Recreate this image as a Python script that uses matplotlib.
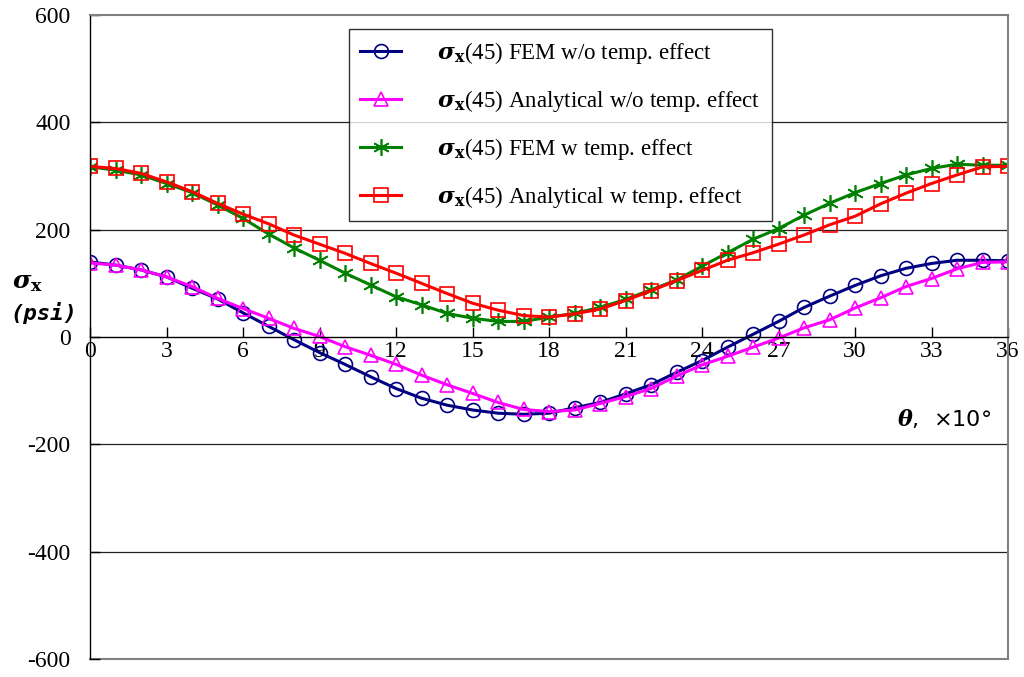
import matplotlib
matplotlib.use("Agg")
import matplotlib.pyplot as plt

plt.rcParams["font.family"] = ["Liberation Serif", "DejaVu Serif"]
plt.rcParams["mathtext.fontset"] = "dejavuserif"
plt.rcParams["axes.unicode_minus"] = False

theta = list(range(0, 37))

fem_wo = [140, 134, 125, 112, 91, 71, 45, 20, -5, -29, -51, -74, -96, -114, -127, -136,
          -142, -144, -142, -132, -122, -106, -89, -66, -44, -19, 5, 29, 55, 76, 96, 114,
          128, 137, 143, 143, 142]
ana_wo = [138, 134, 125, 112, 94, 72, 53, 35, 16, 1, -18, -34, -51, -71, -89, -105,
          -122, -135, -139, -136, -124, -111, -96, -73, -52, -36, -19, -2, 17, 32, 54, 73,
          94, 109, 127, 139, 140]
fem_w = [317, 311, 302, 286, 269, 246, 221, 192, 166, 143, 119, 97, 75, 60, 44, 35,
         29, 29, 37, 44, 55, 70, 88, 106, 132, 157, 182, 202, 227, 249, 269, 286,
         302, 314, 322, 320, 320]
ana_w = [318, 314, 305, 289, 271, 249, 229, 211, 190, 173, 156, 137, 119, 100, 81, 63,
         50, 40, 37, 43, 52, 68, 86, 105, 124, 143, 157, 173, 190, 209, 225, 248,
         268, 286, 302, 317, 318]

yticks = [-600, -400, -200, 0, 200, 400, 600]
xticks = list(range(0, 37, 3))

sig = r"$\boldsymbol{\sigma}_{\mathbf{x}}$"
labels = [sig + "(45) FEM w/o temp. effect",
          sig + "(45) Analytical w/o temp. effect",
          sig + "(45) FEM w temp. effect",
          sig + "(45) Analytical w temp. effect"]

fig = plt.figure(figsize=(10.24, 6.77), dpi=100)
ax = fig.add_axes([90 / 1024, 1 - 659 / 677, 918 / 1024, 644 / 677])

ax.plot(theta, fem_wo, color="#000080", lw=2.2, marker="o", ms=10, mfc="none",
        mec="#000080", mew=1.2, label=labels[0])
ax.plot(theta, ana_wo, color="#ff00ff", lw=2.2, marker="^", ms=10, mfc="none",
        mec="#ff00ff", mew=1.2, label=labels[1])
ax.plot(theta, fem_w, color="#008000", lw=2.2, marker=(6, 2, 0), ms=12,
        mec="#008000", mew=1.2, label=labels[2])
ax.plot(theta, ana_w, color="#ff0000", lw=2.2, marker="s", ms=10, mfc="none",
        mec="#ff0000", mew=1.2, label=labels[3])

ax.set_xlim(0, 36)
ax.set_ylim(-600, 600)

for y in [-400, -200, 200, 400]:
    ax.axhline(y, color="#222222", lw=0.9, zorder=0)
ax.axhline(-600, color="#808080", lw=1.5, clip_on=False, zorder=0)

ax.spines["bottom"].set_position(("data", 0))
ax.spines["bottom"].set_color("black")
ax.spines["bottom"].set_linewidth(1.0)
ax.spines["left"].set_color("black")
ax.spines["left"].set_linewidth(1.0)
ax.spines["top"].set_color("#808080")
ax.spines["top"].set_linewidth(1.5)
ax.spines["right"].set_color("#808080")
ax.spines["right"].set_linewidth(1.5)

ax.set_xticks(xticks)
ax.set_yticks(yticks)
ax.tick_params(axis="x", direction="in", length=7, width=1, pad=3, labelsize=17)
ax.tick_params(axis="y", direction="in", length=7, width=1, pad=14, labelsize=17)

leg = ax.legend(loc="upper left", bbox_to_anchor=(259 / 918, 630 / 644), borderaxespad=0,
                fontsize=16.5, frameon=True, fancybox=False, edgecolor="black",
                handlelength=1.75, handletextpad=1.6, labelspacing=0.95, borderpad=0.5)
leg.get_frame().set_linewidth(1.0)

fig.text(12 / 1024, 1 - 283 / 677, sig, fontsize=18, va="center")
fig.text(10 / 1024, 1 - 313 / 677, "(psi)", fontsize=16, fontweight="bold",
         fontstyle="italic", va="center", family="DejaVu Sans Mono")
fig.text(897 / 1024, 1 - 418 / 677, r"$\boldsymbol{\theta}$,  ×10°", fontsize=16,
         va="center", family="DejaVu Sans")

fig.savefig("out.png", dpi=100)
